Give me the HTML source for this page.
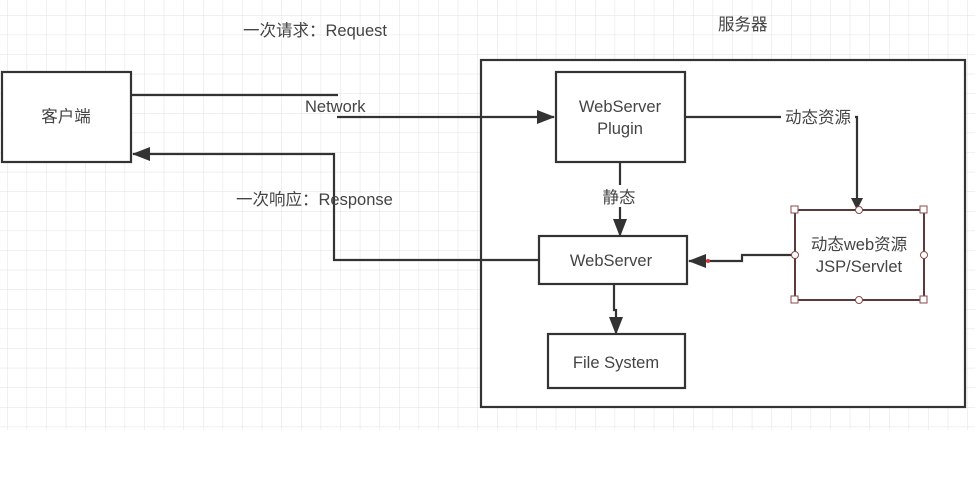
<!DOCTYPE html>
<html><head><meta charset="utf-8"><style>
html,body{margin:0;padding:0;background:#fff;}
svg{display:block;}
text{font-family:"Liberation Sans","Noto Sans CJK SC",sans-serif;fill:#444;}
</style></head><body>
<svg width="980" height="497" viewBox="0 0 980 497" xmlns="http://www.w3.org/2000/svg">
<defs>
<pattern id="g" x="7" y="15" width="19.6" height="19.6" patternUnits="userSpaceOnUse">
<path d="M0 0V19.6M0 0H19.6" stroke="#e2e2e2" stroke-width="1" fill="none"/>
</pattern>
<marker id="a" markerWidth="12" markerHeight="12" refX="11" refY="6" orient="auto" markerUnits="userSpaceOnUse">
<path d="M0 0L12 6L0 12z" fill="#333"/>
</marker>
<marker id="b" markerWidth="18" markerHeight="14" refX="17" refY="7" orient="auto" markerUnits="userSpaceOnUse">
<path d="M0 0L18 7L0 14z" fill="#333"/>
</marker>
</defs>
<rect x="0" y="0" width="975" height="430" fill="url(#g)"/>
<g stroke="#333" stroke-width="2.2" fill="#fff">
<rect x="481" y="60" width="484" height="347"/>
<rect x="2" y="72" width="129" height="90"/>
<rect x="556" y="72" width="129" height="90"/>
<rect x="539" y="236" width="148" height="48"/>
<rect x="548" y="334" width="137" height="54"/>
</g>
<rect x="795" y="210" width="129" height="90" fill="#fff" stroke="#5a3a3a" stroke-width="2"/>
<g fill="none" stroke="#333" stroke-width="2.2">
<path d="M131 95H338"/>
<path d="M337 117H554" marker-end="url(#b)"/>
<path d="M539 260H334V154H133" marker-end="url(#b)"/>
<path d="M620 162V236" marker-end="url(#b)"/>
<path d="M685 117H857V209" marker-end="url(#a)"/>
<path d="M795 255H742V261H689" marker-end="url(#b)"/>
<path d="M614 284V310H616V334" marker-end="url(#b)"/>
</g>
<rect x="598" y="185" width="42" height="22" fill="#fff"/>
<rect x="781" y="106" width="74" height="22" fill="#fff"/>
<g fill="#fff" stroke="#8a4a4a" stroke-width="1">
<rect x="791" y="206" width="7" height="7"/><rect x="920" y="206" width="7" height="7"/>
<rect x="791" y="296" width="7" height="7"/><rect x="920" y="296" width="7" height="7"/>
<circle cx="859" cy="210" r="3.5"/><circle cx="859" cy="300" r="3.5"/>
<circle cx="795" cy="255" r="3.5"/><circle cx="924" cy="255" r="3.5"/>
</g>
<circle cx="708" cy="261" r="2" fill="#d33"/>
<g font-size="16.5">
<text x="243" y="36">一次请求：Request</text>
<text x="718" y="30">服务器</text>
<text x="305" y="112">Network</text>
<text x="236" y="205">一次响应：Response</text>
<text x="66" y="122" text-anchor="middle">客户端</text>
<text x="620" y="112" text-anchor="middle">WebServer</text>
<text x="620" y="134" text-anchor="middle">Plugin</text>
<text x="619" y="203" text-anchor="middle">静态</text>
<text x="818" y="123" text-anchor="middle">动态资源</text>
<text x="611" y="266" text-anchor="middle">WebServer</text>
<text x="616" y="368" text-anchor="middle">File System</text>
<text x="859" y="250" text-anchor="middle">动态web资源</text>
<text x="859" y="272" text-anchor="middle">JSP/Servlet</text>
</g>
</svg>
</body></html>
